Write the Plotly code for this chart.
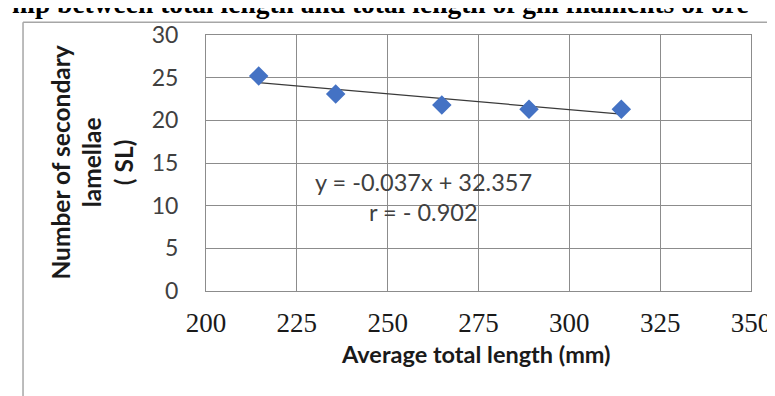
import plotly.graph_objects as go

# Data
avg_total_length = [214.5, 235.7, 264.9, 288.9, 314.3]
secondary_lamellae = [25.2, 23.1, 21.8, 21.3, 21.3]
trend_slope = -0.037
trend_intercept = 32.357
x_ticks = [200, 225, 250, 275, 300, 325, 350]
y_ticks = [0, 5, 10, 15, 20, 25, 30]
equation_text = "y = -0.037x + 32.357"
r_text = "r = - 0.902"
title_text = "hip between total length and total length of gill filaments of ore"

W, H = 775, 396
L, R, T, B = 198, 20, 23, 113
PW, PH = W - L - R, H - T - B

def px(xp):
    return (xp - L) / PW

def py(yp):
    return 1 - (yp - T) / PH

trend_x = [min(avg_total_length), max(avg_total_length)]
trend_y = [trend_slope * v + trend_intercept for v in trend_x]

fig = go.Figure()
fig.add_trace(go.Scatter(
    x=trend_x, y=trend_y, mode="lines",
    line=dict(color="#3a3a3a", width=1.2), showlegend=False, hoverinfo="skip"))
fig.add_trace(go.Scatter(
    x=avg_total_length, y=secondary_lamellae, mode="markers",
    marker=dict(symbol="diamond", size=15, color="#4472C4", line=dict(width=0)),
    showlegend=False))

grid = "#8c8c8c"
serif = "Liberation Serif, Times New Roman, serif"
fig.update_xaxes(
    range=[200, 350], tickvals=x_ticks, ticktext=[str(v) for v in x_ticks],
    showgrid=True, gridcolor=grid, gridwidth=1, zeroline=False,
    showline=True, linecolor=grid, linewidth=1, mirror=True,
    ticks="outside", ticklen=8, tickcolor="rgba(0,0,0,0)",
    ticklabeloverflow="allow",
    tickfont=dict(family=serif, size=27, color="#1a1a1a"),
)
fig.update_yaxes(
    range=[0, 30], tickvals=y_ticks, ticktext=[str(v) for v in y_ticks],
    showgrid=True, gridcolor=grid, gridwidth=1, zeroline=False,
    showline=True, linecolor=grid, linewidth=1, mirror=True,
    ticks="outside", ticklen=22, tickcolor="rgba(0,0,0,0)",
    tickfont=dict(family="Lato", size=23, color="#404040"),
)

annotations = [
    dict(text="<b>Number of secondary<br>lamellae<br>( SL)</b>", x=px(81), y=py(153),
         xref="paper", yref="paper", textangle=-90, showarrow=False,
         xanchor="center", yanchor="middle",
         font=dict(family="Lato", size=24.5, color="#1a1a1a")),
    dict(text="<b>Average total length (mm)</b>", x=px(474), y=py(347),
         xref="paper", yref="paper", showarrow=False,
         xanchor="center", yanchor="middle",
         font=dict(family="Lato", size=23.5, color="#1a1a1a")),
    dict(text=equation_text, x=px(420), y=py(172),
         xref="paper", yref="paper", showarrow=False,
         xanchor="center", yanchor="middle",
         font=dict(family="Lato", size=23.5, color="#404040")),
    dict(text=r_text, x=px(420), y=py(203),
         xref="paper", yref="paper", showarrow=False,
         xanchor="center", yanchor="middle",
         font=dict(family="Lato", size=23.5, color="#404040")),
    dict(text="<b>" + title_text + "</b>", x=px(-2), y=py(9),
         xref="paper", yref="paper", showarrow=False,
         xanchor="left", yanchor="bottom",
         font=dict(family=serif, size=27.5, color="#000000")),
]

shapes = [
    dict(type="line", xref="paper", yref="paper", x0=px(11), x1=px(800),
         y0=py(10), y1=py(10), line=dict(color="#a6a6a6", width=1.5)),
    dict(type="line", xref="paper", yref="paper", x0=px(11), x1=px(11),
         y0=py(10), y1=py(420), line=dict(color="#a6a6a6", width=1.5)),
]

fig.update_layout(
    width=W, height=H,
    margin=dict(l=L, r=R, t=T, b=B, pad=0),
    paper_bgcolor="white", plot_bgcolor="white",
    annotations=annotations, shapes=shapes,
    showlegend=False,
)

fig.write_html("out.html")
